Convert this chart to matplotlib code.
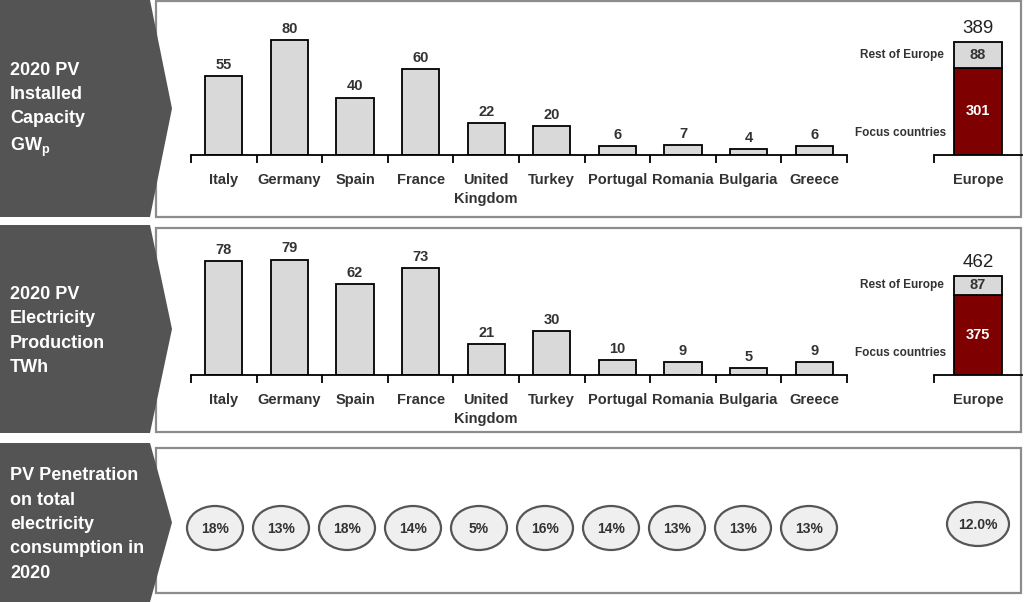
import matplotlib
matplotlib.use("Agg")
import matplotlib.pyplot as plt
from matplotlib.patches import Polygon, Rectangle, Ellipse

plt.rcParams['font.family'] = ['Liberation Sans', 'DejaVu Sans']
plt.rcParams['mathtext.fontset'] = 'custom'
plt.rcParams['mathtext.bf'] = 'Liberation Sans:bold'
plt.rcParams['mathtext.rm'] = 'Liberation Sans:bold'

# data
countries = ['Italy', 'Germany', 'Spain', 'France', 'United\nKingdom', 'Turkey',
             'Portugal', 'Romania', 'Bulgaria', 'Greece']
capacity_gw = [55, 80, 40, 60, 22, 20, 6, 7, 4, 6]
production_twh = [78, 79, 62, 73, 21, 30, 10, 9, 5, 9]
penetration = ['18%', '13%', '18%', '14%', '5%', '16%', '14%', '13%', '13%', '13%']

europe_capacity = [301, 88]     # focus countries, rest of Europe
europe_production = [375, 87]
europe_penetration = '12.0%'

row_titles = ['2020 PV\nInstalled\nCapacity\nGW$_\\mathbf{p}$',
              '2020 PV\nElectricity\nProduction\nTWh',
              'PV Penetration\non total\nelectricity\nconsumption in\n2020']

W, H = 1024, 602
BAR_GREY = '#d9d9d9'
DARK_RED = '#7f0000'
ARROW = '#545454'
TXT = '#333333'

fig = plt.figure(figsize=(W / 100, H / 100), dpi=100)

# background layer in pixel units
bg = fig.add_axes([0, 0, 1, 1])
bg.set_xlim(0, W)
bg.set_ylim(H, 0)
bg.axis('off')
bg.set_zorder(0)

rows = [(0, 217, 1, 217), (225, 433, 228, 432), (443, 602, 448, 593)]
for (ay0, ay1, py0, py1), title in zip(rows, row_titles):
    mid = (ay0 + ay1) / 2
    bg.add_patch(Rectangle((156, py0), 865, py1 - py0, facecolor='white',
                           edgecolor='#8c8c8c', linewidth=1.6, zorder=1))
    bg.add_patch(Polygon([(0, ay0), (150, ay0), (172, mid), (150, ay1), (0, ay1)],
                         closed=True, facecolor=ARROW, edgecolor='none', zorder=2))
    bg.text(10, mid + 2, title, color='white', fontsize=13, fontweight='bold',
            ha='left', va='center', linespacing=1.56, zorder=3)

# penetration ellipses
for i, p in enumerate(penetration):
    cx = 215 + i * 66
    bg.add_patch(Ellipse((cx, 528), 56, 44, facecolor='#efefef',
                         edgecolor='#555555', linewidth=1.6, zorder=2))
    bg.text(cx, 529, p, ha='center', va='center', fontsize=10,
            fontweight='bold', color=TXT, zorder=3)
bg.add_patch(Ellipse((978, 524), 62, 44, facecolor='#efefef',
                     edgecolor='#555555', linewidth=1.6, zorder=2))
bg.text(978, 525, europe_penetration, ha='center', va='center', fontsize=10,
        fontweight='bold', color=TXT, zorder=3)


def country_axes(base_y, scale, values):
    ax = fig.add_axes([191 / W, (H - base_y) / H, 656 / W, 140 / H])
    ax.set_zorder(1)
    ax.patch.set_alpha(0)
    x = list(range(len(values)))
    ax.bar(x, values, width=0.57, color=BAR_GREY, edgecolor='black', linewidth=1.3)
    ax.set_xlim(-0.5, len(values) - 0.5)
    ax.set_ylim(0, 140 / scale)
    for s in ['top', 'left', 'right']:
        ax.spines[s].set_visible(False)
    ax.spines['bottom'].set_linewidth(1.3)
    ax.set_xticks([i - 0.5 for i in range(len(values) + 1)])
    ax.set_xticklabels([])
    ax.tick_params(axis='x', direction='out', length=6, width=1.3)
    ax.set_yticks([])
    for i, v in enumerate(values):
        ax.annotate(str(v), (i, v), xytext=(0, 3), textcoords='offset points',
                    ha='center', va='bottom', fontsize=10.5, fontweight='bold', color=TXT)
        ax.annotate(countries[i], (i, 0), xytext=(0, -13), textcoords='offset points',
                    ha='center', va='top', fontsize=10.5, fontweight='bold', color=TXT,
                    linespacing=1.45)
    return ax


def europe_axes(base_y, scale, parts):
    ax = fig.add_axes([934 / W, (H - base_y) / H, 88 / W, 140 / H])
    ax.set_zorder(1)
    ax.patch.set_alpha(0)
    bw = 0.545
    focus, rest = parts
    ax.bar([0], [focus], width=bw, color=DARK_RED, edgecolor='black', linewidth=1.3)
    ax.bar([0], [rest], bottom=[focus], width=bw, color=BAR_GREY,
           edgecolor='black', linewidth=1.3)
    ax.set_xlim(-0.5, 0.5)
    ax.set_ylim(0, 140 / scale)
    for s in ['top', 'left', 'right']:
        ax.spines[s].set_visible(False)
    ax.spines['bottom'].set_linewidth(1.3)
    ax.set_xticks([-0.5])
    ax.set_xticklabels([])
    ax.tick_params(axis='x', direction='out', length=6, width=1.3)
    ax.set_yticks([])
    total = focus + rest
    ax.annotate(str(total), (0, total), xytext=(0, 4), textcoords='offset points',
                ha='center', va='bottom', fontsize=13.5, color='#222222')
    ax.text(0, focus + rest / 2, str(rest), ha='center', va='center',
            fontsize=10.5, fontweight='bold', color=TXT)
    ax.text(0, focus / 2, str(focus), ha='center', va='center',
            fontsize=10.5, fontweight='bold', color='white')
    ax.annotate('Rest of Europe', (-bw / 2, focus + rest / 2), xytext=(-7, 0),
                textcoords='offset points', ha='right', va='center',
                fontsize=8.5, fontweight='bold', color=TXT)
    ax.annotate('Focus countries', (-bw / 2, 0), xytext=(-6, 16),
                textcoords='offset points', ha='right', va='center',
                fontsize=8.5, fontweight='bold', color=TXT)
    ax.annotate('Europe', (0, 0), xytext=(0, -13), textcoords='offset points',
                ha='center', va='top', fontsize=10.5, fontweight='bold', color=TXT)
    return ax


country_axes(155, 1.436, capacity_gw)
europe_axes(155, 0.29, europe_capacity)
country_axes(375, 1.46, production_twh)
europe_axes(375, 0.214, europe_production)

fig.savefig('out.png', dpi=100)
